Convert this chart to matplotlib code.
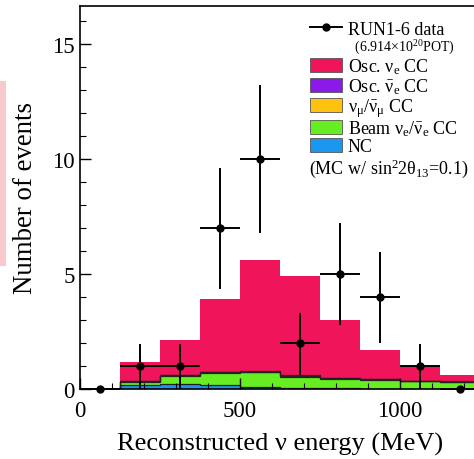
import matplotlib
matplotlib.use("Agg")
import matplotlib.pyplot as plt
from matplotlib.lines import Line2D
from matplotlib.patches import Patch, Rectangle
from matplotlib.ticker import MultipleLocator
import numpy as np

plt.rcParams['font.family'] = ['Liberation Serif', 'DejaVu Serif']
plt.rcParams['mathtext.fontset'] = 'custom'
plt.rcParams['mathtext.rm'] = 'Liberation Serif'
plt.rcParams['mathtext.it'] = 'Liberation Serif'

# bin edges (MeV) and MC components per bin
bin_edges = [0, 125, 250, 375, 500, 625, 750, 875, 1000, 1125, 1250]
nc = [0, 0.19, 0.22, 0.17, 0.09, 0.05, 0.03, 0.02, 0.02, 0.02]
beam_nue = [0, 0.12, 0.36, 0.52, 0.63, 0.49, 0.41, 0.38, 0.31, 0.28]
numu_cc = [0, 0.02, 0.02, 0.03, 0.03, 0.03, 0.03, 0.03, 0.02, 0.02]
osc_nuebar = [0, 0.01, 0.02, 0.02, 0.03, 0.02, 0.02, 0.02, 0.01, 0.01]
osc_nue = [0, 0.83, 1.52, 3.16, 4.82, 4.34, 2.52, 1.25, 0.63, 0.30]

# data points
data_x = [62.5, 187.5, 312.5, 437.5, 562.5, 687.5, 812.5, 937.5, 1062.5, 1187.5]
data_y = [0, 1, 1, 7, 10, 2, 5, 4, 1, 0]
err_lo = [0, 1.0, 1.0, 2.65, 3.2, 1.4, 2.2, 2.0, 1.0, 0]
err_hi = [0, 0.96, 0.96, 2.6, 3.2, 1.3, 2.2, 1.95, 0.96, 0]

layers = [
    (nc, '#1a96ee', 'NC'),
    (beam_nue, '#66ee22', r'Beam $\mathrm{\nu_e/\bar{\nu}_e}$ CC'),
    (numu_cc, '#ffc20e', r'$\mathrm{\nu_\mu/\bar{\nu}_\mu}$ CC'),
    (osc_nuebar, '#8b1ae8', r'Osc. $\mathrm{\bar{\nu}_e}$ CC'),
    (osc_nue, '#f0145a', r'Osc. $\mathrm{\nu_e}$ CC'),
]

fig = plt.figure(figsize=(4.74, 4.6), dpi=100)
ax = fig.add_axes([80 / 474, 1 - 390 / 460, 400 / 474, 383 / 460])

# stacked histogram
base = np.zeros(len(nc))
for vals, col, lab in layers:
    top = base + np.array(vals)
    ax.stairs(top, bin_edges, baseline=base, fill=True, color=col, lw=0)
    base = top
base = np.zeros(len(nc))
for vals, col, lab in layers[:-1]:
    base = base + np.array(vals)
    ax.stairs(base, bin_edges, color='#222222', lw=0.9)

half_w = np.diff(bin_edges) / 2
ax.errorbar(data_x, data_y, xerr=half_w, yerr=[err_lo, err_hi], fmt='o',
            color='black', ms=5, lw=1.4, capsize=0, zorder=5, clip_on=False)

ax.set_xlim(0, 1250)
ax.set_ylim(0, 16.65)
ax.xaxis.set_major_locator(MultipleLocator(500))
ax.xaxis.set_minor_locator(MultipleLocator(100))
ax.yaxis.set_major_locator(MultipleLocator(5))
ax.yaxis.set_minor_locator(MultipleLocator(1))
ax.tick_params(which='both', direction='in', labelsize=16.5)
ax.tick_params(which='major', length=8, width=1)
ax.tick_params(which='minor', length=4.5, width=0.8)
ax.tick_params(axis='x', pad=8)
ax.tick_params(axis='y', pad=4)
for s in ax.spines.values():
    s.set_linewidth(1.2)

ax.set_xlabel('Reconstructed ν energy (MeV)', fontsize=19, labelpad=8)
ax.set_ylabel('Number of events', fontsize=19.4, labelpad=10)

handles = [Line2D([0], [0], color='black', marker='o', ms=5, lw=1.4),
           Line2D([], [], color='none')]
labels = ['RUN1-6 data', r'  (6.914×10$^{20}$POT)']
for vals, col, lab in layers[::-1]:
    handles.append(Patch(facecolor=col, edgecolor='#555555', lw=0.6))
    labels.append(lab)
leg = ax.legend(handles, labels, loc='upper left', bbox_to_anchor=(0.552, 0.985),
                frameon=False, fontsize=13, borderpad=0, labelspacing=0.0,
                handlelength=1.8, handleheight=0.8, handletextpad=0.3)
leg.get_texts()[1].set_fontsize(10)
ax.text(0.572, 0.578, r'(MC w/ sin$^2$2θ$_{13}$=0.1)', transform=ax.transAxes,
        fontsize=13, va='center', ha='left')

# pink strip at the left edge of the page
fig.patches.append(Rectangle((0, 1 - 267 / 460), 6 / 474, 185 / 460,
                             transform=fig.transFigure, color='#f9c9cd', lw=0))

fig.savefig('out.png', dpi=100)
